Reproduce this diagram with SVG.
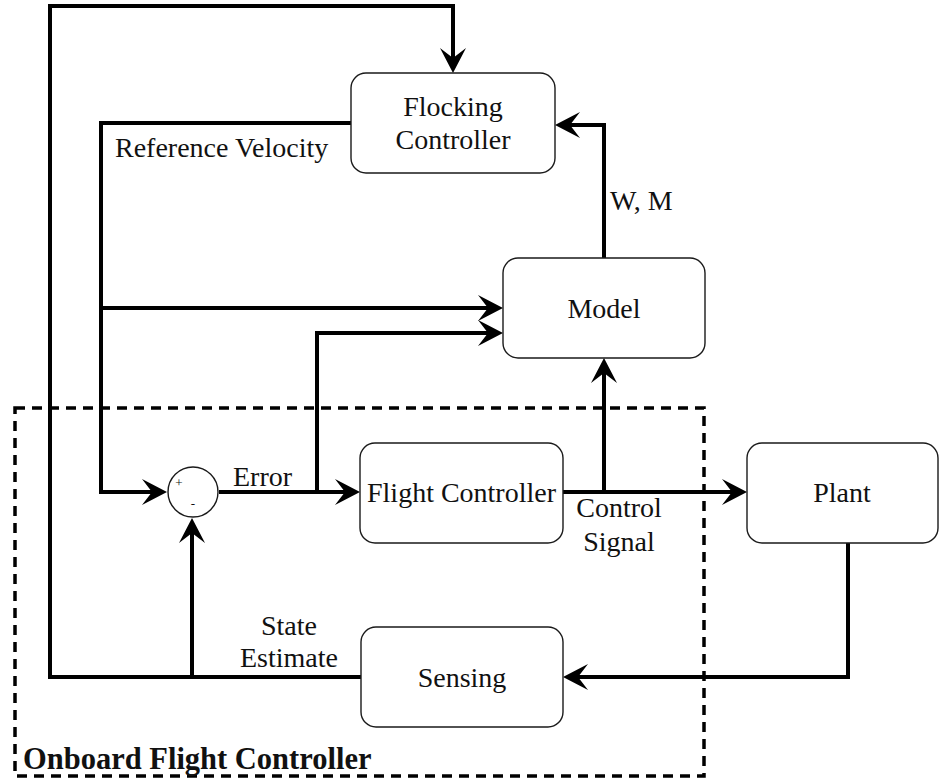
<svg xmlns="http://www.w3.org/2000/svg" width="942" height="782" viewBox="0 0 942 782">
<style>
.box{fill:#fff;stroke:#1a1a1a;stroke-width:1.4}
.t{font-family:'Liberation Serif','Times New Roman','DejaVu Serif',serif;font-size:28px;fill:#111}
.m{text-anchor:middle}
.c{fill:none;stroke:#000;stroke-width:4}
.s{font-size:13px}
</style>
<defs>
<marker id="arr" markerUnits="userSpaceOnUse" viewBox="-26 -14 28 28" markerWidth="28" markerHeight="28" refX="-15" refY="0" orient="auto">
<path d="M0,0 L-25,-13 L-15,0 L-25,13 Z" fill="#000"/>
</marker>
</defs>
<rect x="15" y="408" width="689" height="368" fill="none" stroke="#000" stroke-width="3.5" stroke-dasharray="10 7"/>
<text class="t" x="23" y="769" style="font-weight:bold;font-size:30.5px">Onboard Flight Controller</text>
<g id="connectors">
<path class="c" d="M361,677 H50 V6 H453 V58" marker-end="url(#arr)"/>
<path class="c" d="M192,677 V533" marker-end="url(#arr)"/>
<path class="c" d="M351,123 H101 V492 H152" marker-end="url(#arr)"/>
<path class="c" d="M101,308 H488" marker-end="url(#arr)"/>
<path class="c" d="M219,492 H345" marker-end="url(#arr)"/>
<path class="c" d="M317,492 V333 H488" marker-end="url(#arr)"/>
<path class="c" d="M563,492 H732" marker-end="url(#arr)"/>
<path class="c" d="M604,492 V373" marker-end="url(#arr)"/>
<path class="c" d="M604,258 V125 H570" marker-end="url(#arr)"/>
<path class="c" d="M848,543 V677 H578" marker-end="url(#arr)"/>
<text class="t" x="115" y="157">Reference Velocity</text>
<text class="t" x="610" y="210">W, M</text>
<text class="t" x="233" y="486">Error</text>
<text class="t m" x="619" y="517">Control</text>
<text class="t m" x="619" y="551">Signal</text>
<text class="t m" x="289" y="635">State</text>
<text class="t m" x="289" y="667">Estimate</text>
</g>
<g id="flocking">
<rect class="box" x="351" y="73" width="204" height="100" rx="15"/>
<text class="t m" x="453" y="116">Flocking</text>
<text class="t m" x="453" y="149">Controller</text>
</g>
<g id="model">
<rect class="box" x="503" y="258" width="202" height="100" rx="15"/>
<text class="t m" x="604" y="318">Model</text>
</g>
<g id="sum">
<circle cx="193" cy="492" r="25" fill="#fff" stroke="#1a1a1a" stroke-width="1.4"/>
<text class="t m s" x="179" y="487">+</text>
<text class="t m s" x="193" y="508">-</text>
</g>
<g id="flight">
<rect class="box" x="360" y="443" width="203" height="100" rx="15"/>
<text class="t m" x="461.5" y="502">Flight Controller</text>
</g>
<g id="plant">
<rect class="box" x="747" y="443" width="191" height="100" rx="15"/>
<text class="t m" x="842" y="502">Plant</text>
</g>
<g id="sensing">
<rect class="box" x="361" y="627" width="202" height="100" rx="15"/>
<text class="t m" x="462" y="687">Sensing</text>
</g>
</svg>
